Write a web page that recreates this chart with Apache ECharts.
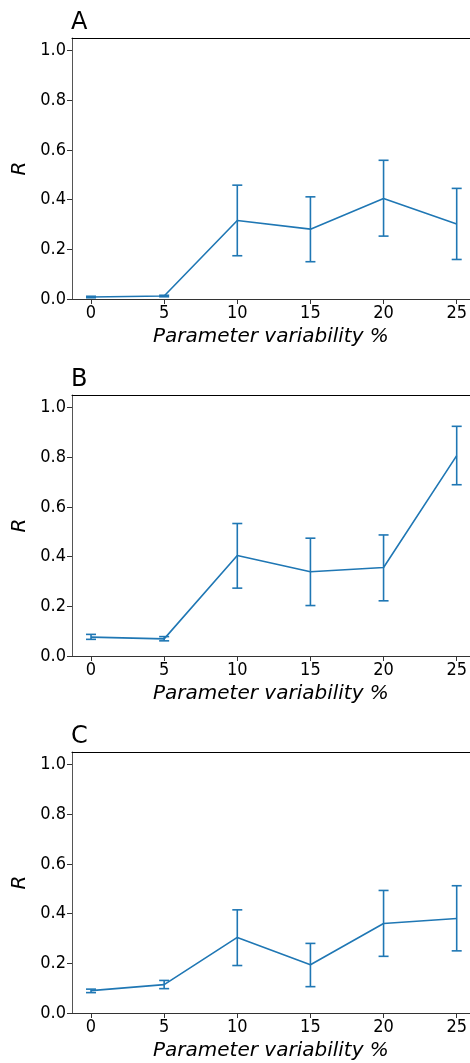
<!DOCTYPE html>
<html>
<head>
<meta charset="utf-8">
<script src="https://cdn.jsdelivr.net/npm/echarts@6/dist/echarts.min.js"></script>
<style>
  html, body { margin: 0; padding: 0; background: #fff; }
  #chart { width: 470px; height: 1063px; }
</style>
</head>
<body>
<div id="chart"></div>
<script>
// Parameter variability levels (%) shared by all three panels
const variability = [0, 5, 10, 15, 20, 25];
const xTicks = [0, 5, 10, 15, 20, 25];
const yTicks = [0, 0.2, 0.4, 0.6, 0.8, 1.0];
const panelLabels = ['A', 'B', 'C'];

// Panel A: mean R with lower / upper error bounds
const meanA = [0.008, 0.012, 0.316, 0.281, 0.404, 0.302];
const lowA  = [0.005, 0.009, 0.174, 0.150, 0.253, 0.159];
const highA = [0.011, 0.015, 0.458, 0.411, 0.558, 0.445];

// Panel B
const meanB = [0.076, 0.069, 0.404, 0.339, 0.356, 0.806];
const lowB  = [0.067, 0.061, 0.273, 0.203, 0.222, 0.689];
const highB = [0.087, 0.078, 0.533, 0.474, 0.487, 0.924];

// Panel C
const meanC = [0.090, 0.114, 0.304, 0.194, 0.360, 0.380];
const lowC  = [0.082, 0.098, 0.191, 0.106, 0.228, 0.250];
const highC = [0.096, 0.131, 0.415, 0.280, 0.493, 0.512];

const panels = [
  { mean: meanA, low: lowA, high: highA },
  { mean: meanB, low: lowB, high: highB },
  { mean: meanC, low: lowC, high: highC }
];

const BLUE = '#1f77b4';
const FONT = '"DejaVu Sans Condensed", "DejaVu Sans"';
const LABEL_FONT = '"DejaVu Sans"';
const gridTops = [38, 395, 752];
const gridHeight = 261;

const grids = [], xAxes = [], yAxes = [], series = [], titles = [];

panels.forEach((p, i) => {
  grids.push({ left: 72, top: gridTops[i], right: 0, height: gridHeight });
  titles.push({
    text: panelLabels[i], left: 71, top: gridTops[i] - 27, padding: 0,
    textStyle: { fontFamily: LABEL_FONT, fontSize: 24, fontWeight: 'normal', color: '#000' }
  });
  xAxes.push({
    type: 'value', gridIndex: i, min: -1.3, max: 25.9,
    name: 'Parameter variability %', nameLocation: 'middle', nameGap: 28,
    nameTextStyle: { fontFamily: LABEL_FONT, fontSize: 20, fontStyle: 'italic', color: '#000' },
    splitLine: { show: false },
    axisLine: { show: true, onZero: false, lineStyle: { color: '#333', width: 1 } },
    axisTick: { show: true, length: 5, customValues: xTicks, lineStyle: { color: '#333' } },
    axisLabel: { customValues: xTicks, fontFamily: FONT, fontSize: 18, color: '#000', margin: 5 }
  });
  // top spine of the panel
  xAxes.push({
    type: 'value', gridIndex: i, position: 'top', min: -1.3, max: 25.9,
    splitLine: { show: false },
    axisLine: { show: true, onZero: false, lineStyle: { color: '#000', width: 1 } },
    axisTick: { show: false }, axisLabel: { show: false }
  });
  yAxes.push({
    type: 'value', gridIndex: i, min: 0, max: 1.05,
    name: 'R', nameLocation: 'middle', nameGap: 36, nameRotate: 90,
    nameTextStyle: { fontFamily: LABEL_FONT, fontSize: 20, fontStyle: 'italic', color: '#000' },
    splitLine: { show: false },
    axisLine: { show: true, onZero: false, lineStyle: { color: '#555', width: 1 } },
    axisTick: { show: true, length: 5, customValues: yTicks, lineStyle: { color: '#333' } },
    axisLabel: {
      customValues: yTicks, fontFamily: FONT, fontSize: 18, color: '#000', margin: 6,
      formatter: v => v.toFixed(1)
    }
  });
  series.push({
    type: 'line', xAxisIndex: 2 * i, yAxisIndex: i,
    data: variability.map((x, k) => [x, p.mean[k]]),
    showSymbol: false, symbol: 'none',
    lineStyle: { color: BLUE, width: 1.6 }, z: 3, animation: false
  });
  series.push({
    type: 'custom', xAxisIndex: 2 * i, yAxisIndex: i,
    data: variability.map((x, k) => [x, p.low[k], p.high[k]]),
    encode: { x: 0, y: [1, 2] },
    z: 4, animation: false,
    renderItem: (params, api) => {
      const lo = api.coord([api.value(0), api.value(1)]);
      const hi = api.coord([api.value(0), api.value(2)]);
      const cap = 5;
      const style = { stroke: BLUE, lineWidth: 1.6 };
      return {
        type: 'group',
        children: [
          { type: 'line', shape: { x1: lo[0], y1: lo[1], x2: hi[0], y2: hi[1] }, style },
          { type: 'line', shape: { x1: lo[0] - cap, y1: lo[1], x2: lo[0] + cap, y2: lo[1] }, style },
          { type: 'line', shape: { x1: hi[0] - cap, y1: hi[1], x2: hi[0] + cap, y2: hi[1] }, style }
        ]
      };
    }
  });
});

const chart = echarts.init(document.getElementById('chart'), null, { renderer: 'canvas' });
chart.setOption({
  animation: false,
  backgroundColor: '#fff',
  title: titles,
  grid: grids,
  xAxis: xAxes,
  yAxis: yAxes,
  series: series
});
</script>
</body>
</html>
